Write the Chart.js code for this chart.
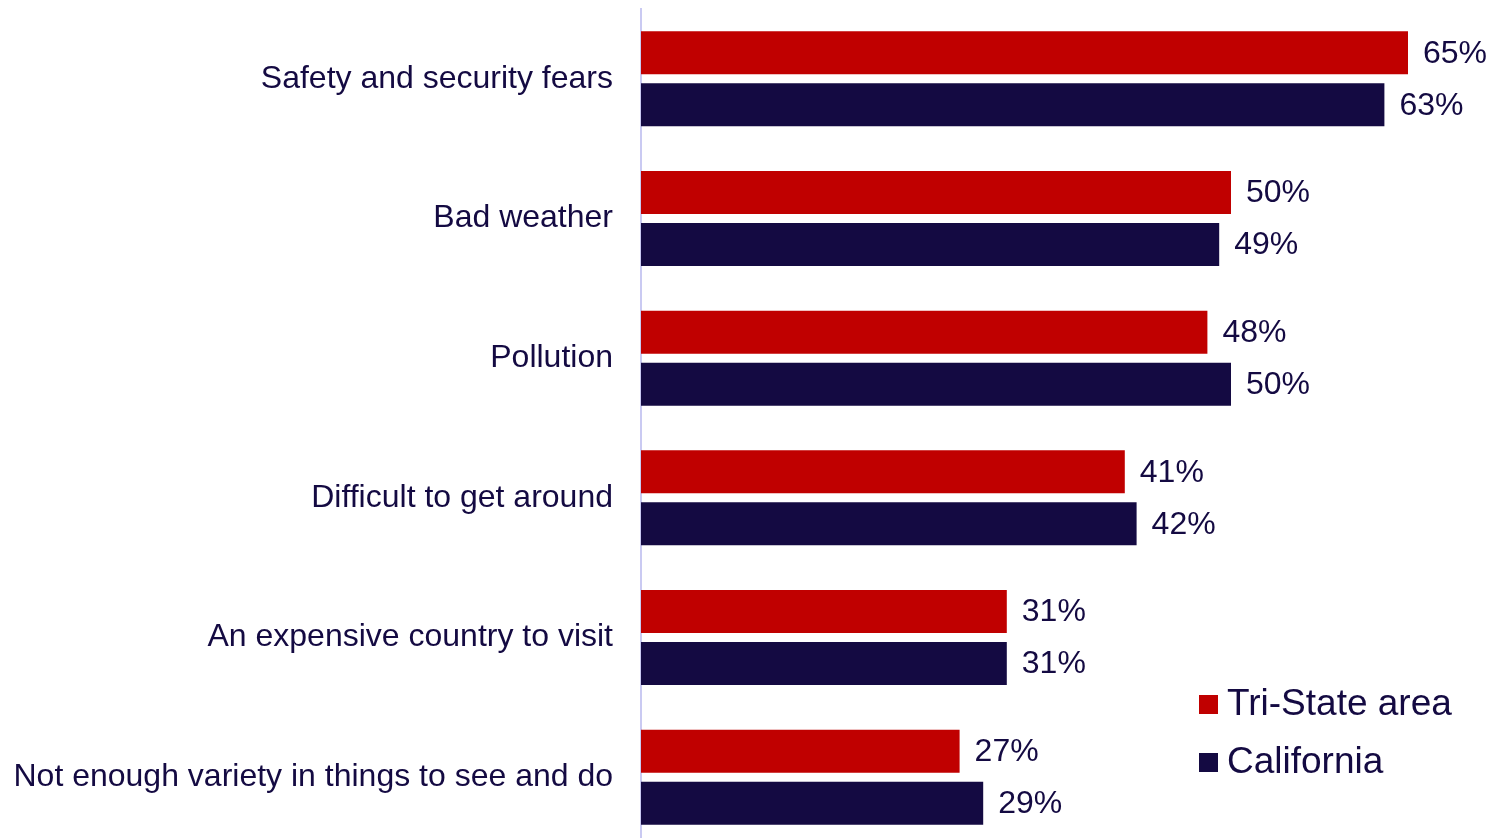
<!DOCTYPE html>
<html>
<head>
<meta charset="utf-8">
<script src="https://cdn.jsdelivr.net/npm/chart.js@4"></script>
<style>
    html, body { margin: 0; padding: 0; background: #fff; overflow: hidden; }
    #wrap { width: 1501px; height: 848px; }
</style>
</head>
<body>
<div id="wrap"><canvas id="barChart"></canvas></div>
<script>
// Chart data
const categories = [
    'Safety and security fears',
    'Bad weather',
    'Pollution',
    'Difficult to get around',
    'An expensive country to visit',
    'Not enough variety in things to see and do'
];
const triStateValues = [65, 50, 48, 41, 31, 27];
const californiaValues = [63, 49, 50, 42, 31, 29];
const seriesNames = ['Tri-State area', 'California'];

const RED = '#c00000';
const NAVY = '#140a42';
const FONT = 'Arial, "Liberation Sans", sans-serif';

// Value labels at the end of each bar
const valueLabels = {
    id: 'valueLabels',
    afterDatasetsDraw(chart) {
        const ctx = chart.ctx;
        ctx.save();
        ctx.font = '32px ' + FONT;
        ctx.fillStyle = NAVY;
        ctx.textAlign = 'left';
        ctx.textBaseline = 'middle';
        chart.data.datasets.forEach(function(ds, i) {
            chart.getDatasetMeta(i).data.forEach(function(bar, j) {
                ctx.fillText(ds.data[j] + '%', bar.x + 15, bar.y + 1);
            });
        });
        ctx.restore();
    }
};

// Legend in the lower right corner
const cornerLegend = {
    id: 'cornerLegend',
    afterDraw(chart) {
        const ctx = chart.ctx;
        ctx.save();
        ctx.font = '37px ' + FONT;
        ctx.textBaseline = 'middle';
        chart.data.datasets.forEach(function(ds, i) {
            const y = 704 + i * 58;
            ctx.fillStyle = ds.backgroundColor;
            ctx.fillRect(1199, y - 9, 19, 19);
            ctx.fillStyle = NAVY;
            ctx.fillText(ds.label, 1227, y + 1);
        });
        ctx.restore();
    }
};

new Chart(document.getElementById('barChart'), {
    type: 'bar',
    data: {
        labels: categories,
        datasets: [{
            label: seriesNames[0],
            data: triStateValues,
            backgroundColor: RED,
            barPercentage: 0.827,
            categoryPercentage: 0.744
        }, {
            label: seriesNames[1],
            data: californiaValues,
            backgroundColor: NAVY,
            barPercentage: 0.827,
            categoryPercentage: 0.744
        }]
    },
    options: {
        indexAxis: 'y',
        responsive: true,
        maintainAspectRatio: false,
        animation: false,
        layout: {
            padding: { top: 9, right: 34, bottom: 1, left: 0 }
        },
        plugins: {
            legend: { display: false },
            tooltip: { enabled: false }
        },
        scales: {
            x: {
                display: false,
                min: 0,
                max: 70
            },
            y: {
                afterFit(scale) {
                    scale.width = 641;
                    scale.paddingTop = 0;
                    scale.paddingBottom = 0;
                },
                grid: { display: false, drawTicks: false },
                border: { display: true, color: '#cacaf2', width: 2 },
                ticks: {
                    padding: 28,
                    color: NAVY,
                    font: { family: FONT, size: 32 }
                }
            }
        }
    },
    plugins: [valueLabels, cornerLegend]
});
</script>
</body>
</html>
